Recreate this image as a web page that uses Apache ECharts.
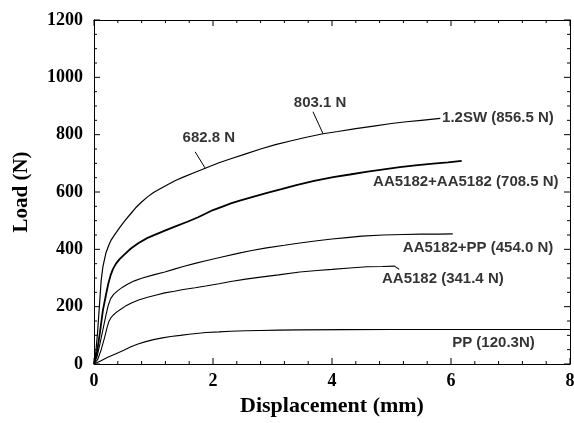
<!DOCTYPE html>
<html>
<head>
<meta charset="utf-8">
<script src="https://cdn.jsdelivr.net/npm/echarts@6/dist/echarts.min.js"></script>
<style>
  html, body { margin: 0; padding: 0; background: #fff; }
  #chart { width: 574px; height: 423px; }
</style>
</head>
<body>
<div id="chart"></div>
<script>
// Load–displacement curves, [displacement (mm), load (N)]
const sw12 = [
  [0, 0], [0.03, 40], [0.06, 110], [0.08, 170], [0.1, 230], [0.12, 290], [0.15, 340],
  [0.2, 387], [0.25, 415], [0.29, 433], [0.36, 455], [0.44, 478], [0.52, 500],
  [0.62, 525], [0.7, 545], [0.8, 565], [0.9, 583], [1.0, 598], [1.12, 612],
  [1.25, 627], [1.37, 640], [1.5, 652], [1.68, 667], [1.87, 682.8], [2.1, 702],
  [2.3, 716], [2.55, 733], [2.8, 750], [3.05, 765], [3.3, 778], [3.55, 790],
  [3.85, 803.1], [4.1, 811], [4.4, 821], [4.7, 830], [5.0, 839], [5.25, 845],
  [5.5, 850], [5.82, 856.5]
];
const aaAa = [
  [0, 0], [0.05, 40], [0.1, 110], [0.15, 188], [0.2, 240], [0.24, 280], [0.28, 310],
  [0.32, 332], [0.37, 350], [0.43, 366], [0.5, 380], [0.62, 403], [0.75, 422],
  [0.9, 440], [1.05, 453], [1.19, 465], [1.38, 481], [1.58, 497], [1.75, 512],
  [1.88, 525], [2.0, 537], [2.17, 550], [2.3, 560], [2.45, 570], [2.7, 585],
  [2.91, 597], [3.15, 610], [3.4, 624], [3.7, 639], [4.02, 652], [4.3, 661],
  [4.6, 671], [4.9, 680], [5.14, 687], [5.4, 693], [5.7, 699], [5.95, 703], [6.18, 708.5]
];
const aaPp = [
  [0, 0], [0.05, 25], [0.1, 70], [0.15, 120], [0.2, 170], [0.24, 205], [0.28, 228],
  [0.33, 243], [0.4, 256], [0.48, 268], [0.57, 279], [0.68, 290], [0.8, 299],
  [1.0, 311], [1.19, 321], [1.35, 331], [1.5, 340], [1.7, 351], [1.88, 360],
  [2.15, 373], [2.4, 385], [2.65, 396], [2.9, 405], [3.2, 414], [3.46, 422],
  [3.75, 430], [4.0, 436], [4.25, 441], [4.5, 446], [4.86, 450], [5.2, 452],
  [5.5, 453], [5.8, 453], [6.03, 454.0]
];
const aa5182 = [
  [0, 0], [0.06, 15], [0.12, 49], [0.18, 94], [0.22, 128], [0.25, 148], [0.28, 160],
  [0.32, 170], [0.38, 181], [0.45, 191], [0.53, 202], [0.62, 212], [0.75, 223],
  [0.9, 233], [1.05, 241], [1.19, 248], [1.35, 254], [1.5, 260], [1.7, 266],
  [1.88, 272], [2.1, 280], [2.3, 288], [2.55, 296], [2.8, 303], [3.1, 311],
  [3.46, 321], [3.75, 326], [4.0, 330], [4.3, 335], [4.59, 339], [4.85, 340],
  [5.05, 341.4], [5.13, 330]
];
const pp = [
  [0, 0], [0.1, 10], [0.24, 24], [0.37, 36], [0.5, 48], [0.62, 60], [0.74, 70],
  [0.87, 78], [1.0, 85], [1.15, 91], [1.29, 96], [1.45, 100], [1.6, 104],
  [1.88, 110], [2.1, 112], [2.3, 114], [2.55, 116], [2.8, 117], [3.1, 118],
  [3.46, 119], [4.2, 120], [5.0, 120.3], [6.0, 120.3], [7.0, 120.3], [8.0, 120.3]
];

const curveNames = ['1.2SW', 'AA5182+AA5182', 'AA5182+PP', 'AA5182', 'PP'];
const unitSep = [' ', ' ', ' ', ' ', ''];
const xTicks = [0, 2, 4, 6, 8];
const yTicks = [0, 200, 400, 600, 800, 1000, 1200];
const xMinorSplit = 5;
const yMinorSplit = 4;

// Peak load of each curve, written into its label
const peakText = (data, i) =>
  curveNames[i] + ' (' + Math.max(...data.map(p => p[1])).toFixed(1) + unitSep[i] + 'N)';

const serifBold = () => ({ fontFamily: 'Liberation Serif', fontWeight: 'bold', color: '#000' });
const sansBold = () => ({ fontFamily: 'Liberation Sans', fontWeight: 'bold', color: '#000', fontSize: 15 });

function curve(data, width) {
  return {
    type: 'line', data, showSymbol: false, symbol: 'none',
    lineStyle: { color: '#000', width }, silent: true, z: 3
  };
}

// Text annotations placed in data space
const notes = [
  { value: [5.85, 859], text: peakText(sw12, 0), pos: 'right' },
  { value: [4.69, 635], text: peakText(aaAa, 1), pos: 'right' },
  { value: [5.19, 405], text: peakText(aaPp, 2), pos: 'right' },
  { value: [4.84, 297], text: peakText(aa5182, 3), pos: 'right' },
  { value: [6.02, 73], text: peakText(pp, 4), pos: 'right' },
  { value: [3.80, 911], text: sw12[31][1].toFixed(1) + ' N', pos: 'inside' },
  { value: [1.93, 789], text: sw12[23][1].toFixed(1) + ' N', pos: 'inside' }
];

const grid = { left: 94, right: 4, top: 20, bottom: 59 };
const xMin = xTicks[0], xMax = xTicks[xTicks.length - 1];
const yMin = yTicks[0], yMax = yTicks[yTicks.length - 1];
const MAJOR = 6, MINOR = 3;

// tick values with their lengths (major at labelled values, minor in between)
function tickValues(list, split) {
  const out = [];
  for (let i = 0; i < list.length; i++) {
    out.push([list[i], MAJOR]);
    if (i < list.length - 1) {
      const step = (list[i + 1] - list[i]) / split;
      for (let k = 1; k < split; k++) out.push([list[i] + k * step, MINOR]);
    }
  }
  return out;
}

function xAx(pos, labels) {
  return {
    type: 'value', position: pos, min: xMin, max: xMax, interval: xTicks[1] - xTicks[0],
    axisLine: { show: true, onZero: false, lineStyle: { color: '#000', width: 1 } },
    axisTick: { show: false },
    splitLine: { show: false },
    axisLabel: Object.assign({ show: labels, fontSize: 18, margin: 8, formatter: v => String(v) }, serifBold()),
    name: labels ? 'Displacement (mm)' : '', nameLocation: 'middle', nameGap: 31,
    nameTextStyle: Object.assign({ fontSize: 22 }, serifBold())
  };
}
function yAx(pos, labels) {
  return {
    type: 'value', position: pos, min: yMin, max: yMax, interval: yTicks[1] - yTicks[0],
    axisLine: { show: true, onZero: false, lineStyle: { color: '#000', width: 1 } },
    axisTick: { show: false },
    splitLine: { show: false },
    axisLabel: Object.assign({ show: labels, fontSize: 18, margin: 11, formatter: v => String(v) }, serifBold()),
    name: labels ? 'Load (N)' : '', nameLocation: 'middle', nameGap: 62,
    nameTextStyle: Object.assign({ fontSize: 21 }, serifBold())
  };
}

const chart = echarts.init(document.getElementById('chart'), null, { renderer: 'canvas' });
chart.setOption({
  animation: false,
  grid: Object.assign({ containLabel: false, outerBoundsMode: 'none' }, grid),
  xAxis: [xAx('bottom', true), xAx('top', false)],
  yAxis: [yAx('left', true), yAx('right', false)],
  series: [
    curve(sw12, 1.2),
    curve(aaAa, 1.8),
    curve(aaPp, 1.1),
    curve(aa5182, 1.1),
    curve(pp, 1.1),
    {
      type: 'scatter', symbolSize: 0, silent: true, z: 5,
      data: notes.map(n => ({
        value: n.value,
        label: Object.assign({ show: true, position: n.pos, distance: 0, formatter: n.text }, sansBold())
      }))
    },
    {
      // leader lines from the two intermediate readings to the 1.2SW curve
      type: 'lines', coordinateSystem: 'cartesian2d', silent: true, z: 4,
      lineStyle: { color: '#000', width: 1, opacity: 1 },
      data: [
        { coords: [[3.68, 880], sw12[31]] },
        { coords: [[1.70, 740], sw12[23]] }
      ]
    }
  ]
});

// Inward frame ticks on all four sides, placed through the grid's own scales
const toPx = v => chart.convertToPixel({ gridIndex: 0 }, v);
const tickEls = [];
function tickLine(p, dx, dy) {
  tickEls.push({
    type: 'line', z: 100, silent: true,
    shape: { x1: p[0], y1: p[1], x2: p[0] + dx, y2: p[1] + dy },
    style: { stroke: '#000', lineWidth: 1 }
  });
}
tickValues(xTicks, xMinorSplit).forEach(([v, len]) => {
  tickLine(toPx([v, yMin]), 0, -len);
  tickLine(toPx([v, yMax]), 0, len);
});
tickValues(yTicks, yMinorSplit).forEach(([v, len]) => {
  tickLine(toPx([xMin, v]), len, 0);
  tickLine(toPx([xMax, v]), -len, 0);
});
chart.setOption({ graphic: { elements: tickEls } });
</script>
</body>
</html>
